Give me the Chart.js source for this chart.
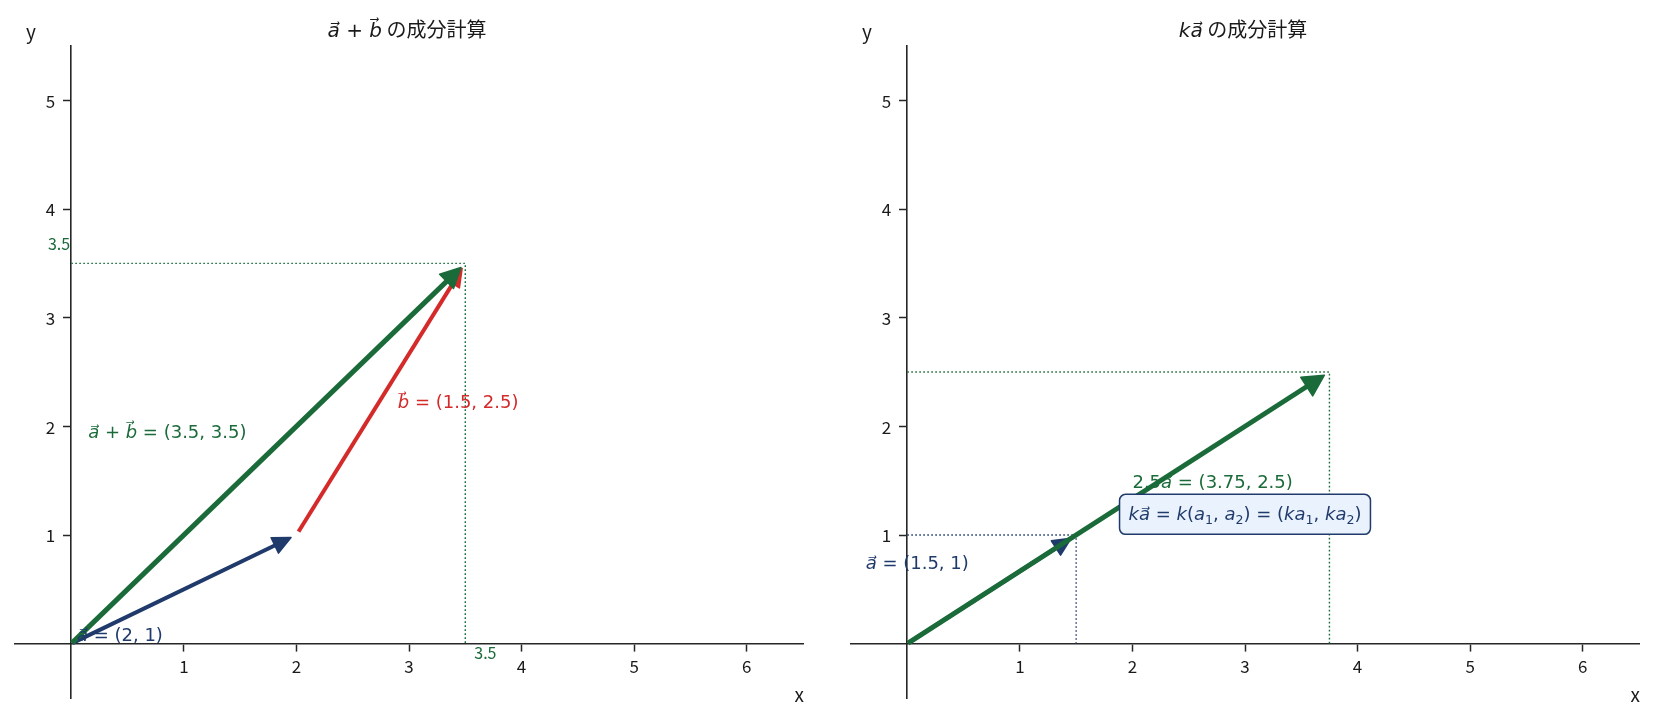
<!DOCTYPE html>
<html><head><meta charset="utf-8">
<script src="https://cdn.jsdelivr.net/npm/chart.js@4.4.1/dist/chart.umd.min.js"></script>
<style>
html,body{margin:0;padding:0;background:#fff;}
#wrap{position:relative;width:1654px;height:720px;background:#fff;}
canvas{position:absolute;top:0;}
</style></head><body>
<div id="wrap">
<canvas id="c1" width="827" height="720" style="left:0"></canvas>
<canvas id="c2" width="827" height="720" style="left:827px"></canvas>
</div>
<script>
// ---- data ----
const xTicks = [1, 2, 3, 4, 5, 6];
const yTicks = [1, 2, 3, 4, 5];
// left panel: a + b
const leftVecA   = [[0, 0], [2, 1]];
const leftVecB   = [[2, 1], [3.5, 3.5]];
const leftVecSum = [[0, 0], [3.5, 3.5]];
const leftGuideSum = [[0, 3.5], [3.5, 3.5], [3.5, 0]];
// right panel: k a  (k = 2.5)
const rightVecA  = [[0, 0], [1.5, 1]];
const rightVecKA = [[0, 0], [3.75, 2.5]];
const rightGuideA  = [[0, 1], [1.5, 1], [1.5, 0]];
const rightGuideKA = [[0, 2.5], [3.75, 2.5], [3.75, 0]];

const GREEN = '#1b6b3a', NAVY = '#1f3a6b', RED = '#d42a2a', AXIS = '#262626', TXT = '#1a1a1a';
const TICK_FONT = '"Noto Sans CJK JP", sans-serif';

const toPts = arr => arr.map(([x, y]) => ({x, y}));
function vec(arr, color, width, head) {
  return {data: toPts(arr), showLine: true, borderColor: color, backgroundColor: color,
          borderWidth: width, pointRadius: 0, pointHoverRadius: 0, borderCapStyle: 'butt', arrow: head};
}
function guide(arr, color) {
  return {data: toPts(arr), showLine: true, borderColor: color, borderWidth: 1.4,
          borderDash: [1.6, 2.4], pointRadius: 0, pointHoverRadius: 0};
}

// ---- rich text helpers ----
const I = t => ({t, f: 'i'}), R = t => ({t, f: 'r'}), S = t => ({t, f: 'r', sub: true}), C = t => ({t, f: 'c'});
function fontFor(s, size) {
  const fam = s.f === 'c' ? TICK_FONT : '"DejaVu Sans", sans-serif';
  const sz = s.sub ? size * 0.7 : size;
  return (s.f === 'i' ? 'italic ' : '') + sz + 'px ' + fam;
}
function measureRich(ctx, segs, size) {
  let w = 0;
  segs.forEach(s => { ctx.font = fontFor(s, size); w += ctx.measureText(s.t).width; });
  return w;
}
function drawRich(ctx, segs, x, y, size, color, align) {
  ctx.save();
  ctx.fillStyle = color; ctx.textBaseline = 'alphabetic'; ctx.textAlign = 'left';
  const total = measureRich(ctx, segs, size);
  let cx = align === 'left' ? x : align === 'right' ? x - total : x - total / 2;
  const base = y + size * 0.33;
  segs.forEach(s => {
    ctx.font = fontFor(s, size);
    ctx.fillText(s.t, cx, base + (s.sub ? size * 0.2 : 0));
    cx += ctx.measureText(s.t).width;
  });
  ctx.restore();
}

// ---- arrow plugin (uses library-computed point positions) ----
const arrowPlugin = {
  id: 'arrows',
  beforeDatasetDraw(chart, args) {
    const ds = chart.data.datasets[args.index];
    if (!ds.arrow) return;
    const pts = args.meta.data, p0 = pts[0], p1 = pts[pts.length - 1];
    const dx = p1.x - p0.x, dy = p1.y - p0.y, len = Math.hypot(dx, dy);
    const ux = dx / len, uy = dy / len, nx = -uy, ny = ux, W = 60;
    const a = ds.arrow;
    const s0 = a.shrinkA, e = len - a.shrinkB - a.len * 0.6;
    const ctx = chart.ctx;
    ctx.save();
    ctx.beginPath();
    ctx.moveTo(p0.x + ux * s0 + nx * W, p0.y + uy * s0 + ny * W);
    ctx.lineTo(p0.x + ux * e + nx * W, p0.y + uy * e + ny * W);
    ctx.lineTo(p0.x + ux * e - nx * W, p0.y + uy * e - ny * W);
    ctx.lineTo(p0.x + ux * s0 - nx * W, p0.y + uy * s0 - ny * W);
    ctx.closePath();
    ctx.clip();
  },
  afterDatasetDraw(chart, args) {
    const ds = chart.data.datasets[args.index];
    if (!ds.arrow) return;
    const ctx = chart.ctx;
    ctx.restore();
    const pts = args.meta.data, p0 = pts[0], p1 = pts[pts.length - 1];
    const dx = p1.x - p0.x, dy = p1.y - p0.y, len = Math.hypot(dx, dy);
    const ux = dx / len, uy = dy / len, nx = -uy, ny = ux;
    const a = ds.arrow;
    const tx = p1.x - ux * a.shrinkB, ty = p1.y - uy * a.shrinkB;
    const bx = tx - ux * a.len, by = ty - uy * a.len;
    ctx.save();
    ctx.fillStyle = ds.borderColor; ctx.strokeStyle = ds.borderColor;
    ctx.lineWidth = 1.5; ctx.lineJoin = 'round';
    ctx.beginPath();
    ctx.moveTo(tx, ty);
    ctx.lineTo(bx + nx * a.half, by + ny * a.half);
    ctx.lineTo(bx - nx * a.half, by - ny * a.half);
    ctx.closePath();
    ctx.fill(); ctx.stroke();
    ctx.restore();
  }
};

// ---- text plugin: y tick labels, title, axis names, annotations ----
const textPlugin = {
  id: 'mathText',
  afterDraw(chart, args, opts) {
    const ctx = chart.ctx, ca = chart.chartArea, sx = chart.scales.x, sy = chart.scales.y;
    // y tick labels (to the left of the centred y axis)
    const x0 = sx.getPixelForValue(0);
    ctx.save();
    ctx.font = '17px ' + TICK_FONT; ctx.fillStyle = TXT; ctx.textAlign = 'right'; ctx.textBaseline = 'middle';
    sy.ticks.forEach(t => ctx.fillText(String(t.value), x0 - 16, sy.getPixelForValue(t.value) + 1));
    ctx.restore();
    // title
    drawRich(ctx, opts.title, (ca.left + ca.right) / 2 - 2, 30, 20, TXT, 'center');
    // axis names
    drawRich(ctx, [C('y')], ca.left + 16, 33, 19, TXT, 'center');
    drawRich(ctx, [C('x')], ca.right + 1, ca.bottom - 2, 19, TXT, 'right');
    (opts.labels || []).forEach(l => {
      const px = sx.getPixelForValue(l.x), py = sy.getPixelForValue(l.y);
      const size = l.size || 18;
      if (l.box) {
        const w = measureRich(ctx, l.segs, size);
        const padX = 9, h = 40;
        let left = l.align === 'center' ? px - w / 2 - padX : px - padX;
        ctx.save();
        ctx.beginPath();
        ctx.roundRect(left, py - h / 2, w + 2 * padX, h, 6);
        ctx.fillStyle = '#eaf2fd'; ctx.fill();
        ctx.lineWidth = 1.5; ctx.strokeStyle = NAVY; ctx.stroke();
        ctx.restore();
      }
      drawRich(ctx, l.segs, px, py, size, l.color, l.align || 'left');
    });
  }
};

function makeChart(id, datasets, pad, textOpts) {
  const tickFont = {family: TICK_FONT, size: 17};
  return new Chart(document.getElementById(id), {
    type: 'scatter',
    data: {datasets},
    options: {
      responsive: false, animation: false, devicePixelRatio: 1, events: [],
      layout: {padding: pad},
      plugins: {legend: {display: false}, tooltip: {enabled: false}, title: {display: false}, mathText: textOpts},
      scales: {
        x: {
          type: 'linear', min: -0.5, max: 6.5, position: {y: 0},
          afterBuildTicks: ax => { ax.ticks = xTicks.map(v => ({value: v})); },
          grid: {display: true, drawOnChartArea: false, drawTicks: true, tickLength: 7, tickWidth: 1.5, tickColor: AXIS},
          border: {display: true, color: AXIS, width: 1.6},
          ticks: {color: TXT, font: tickFont, padding: 6, maxRotation: 0, autoSkip: false}
        },
        y: {
          type: 'linear', min: -0.5, max: 5.5, position: {x: 0},
          afterBuildTicks: ax => { ax.ticks = yTicks.map(v => ({value: v})); },
          grid: {display: true, drawOnChartArea: false, drawTicks: true, tickLength: 7, tickWidth: 1.5, tickColor: AXIS},
          border: {display: true, color: AXIS, width: 1.6},
          ticks: {display: false, autoSkip: false}
        }
      }
    },
    plugins: [arrowPlugin, textPlugin]
  });
}

makeChart('c1', [
  vec(leftVecSum, GREEN, 5, {len: 20, half: 10, shrinkA: 1, shrinkB: 6}),
  vec(leftVecB, RED, 4, {len: 18, half: 8, shrinkA: 4, shrinkB: 6}),
  vec(leftVecA, NAVY, 4, {len: 18, half: 8.5, shrinkA: 1, shrinkB: 6}),
  guide(leftGuideSum, GREEN)
], {left: 15, right: 24, top: 46, bottom: 22}, {
  title: [I('a\u20D7'), R(' + '), I('b\u20D7'), C(' の成分計算')],
  labels: [
    {segs: [I('a\u20D7'), R(' + '), I('b\u20D7'), R(' = (3.5, 3.5)')], x: 0.15, y: 1.95, color: GREEN},
    {segs: [I('b\u20D7'), R(' = (1.5, 2.5)')], x: 2.9, y: 2.22, color: RED},
    {segs: [I('a\u20D7'), R(' = (2, 1)')], x: 0.05, y: 0.08, color: NAVY},
    {segs: [C('3.5')], x: -0.01, y: 3.67, color: GREEN, align: 'right', size: 16},
    {segs: [C('3.5')], x: 3.58, y: -0.09, color: GREEN, size: 16}
  ]
});

makeChart('c2', [
  vec(rightVecKA, GREEN, 5, {len: 21, half: 11, shrinkA: 1, shrinkB: 6}),
  vec(rightVecA, NAVY, 4, {len: 18, half: 8.5, shrinkA: 1, shrinkB: 6}),
  guide(rightGuideKA, GREEN),
  guide(rightGuideA, NAVY)
], {left: 24, right: 15, top: 46, bottom: 22}, {
  title: [I('ka\u20D7'), C(' の成分計算')],
  labels: [
    {segs: [I('a\u20D7'), R(' = (1.5, 1)')], x: -0.37, y: 0.745, color: NAVY},
    {segs: [R('2.5'), I('a\u20D7'), R(' = (3.75, 2.5)')], x: 2.0, y: 1.49, color: GREEN},
    {segs: [I('ka\u20D7'), R(' = '), I('k'), R('('), I('a'), S('1'), R(', '), I('a'), S('2'), R(') = ('),
            I('ka'), S('1'), R(', '), I('ka'), S('2'), R(')')], x: 3.0, y: 1.19, color: NAVY, align: 'center', box: true}
  ]
});
</script>
</body></html>
